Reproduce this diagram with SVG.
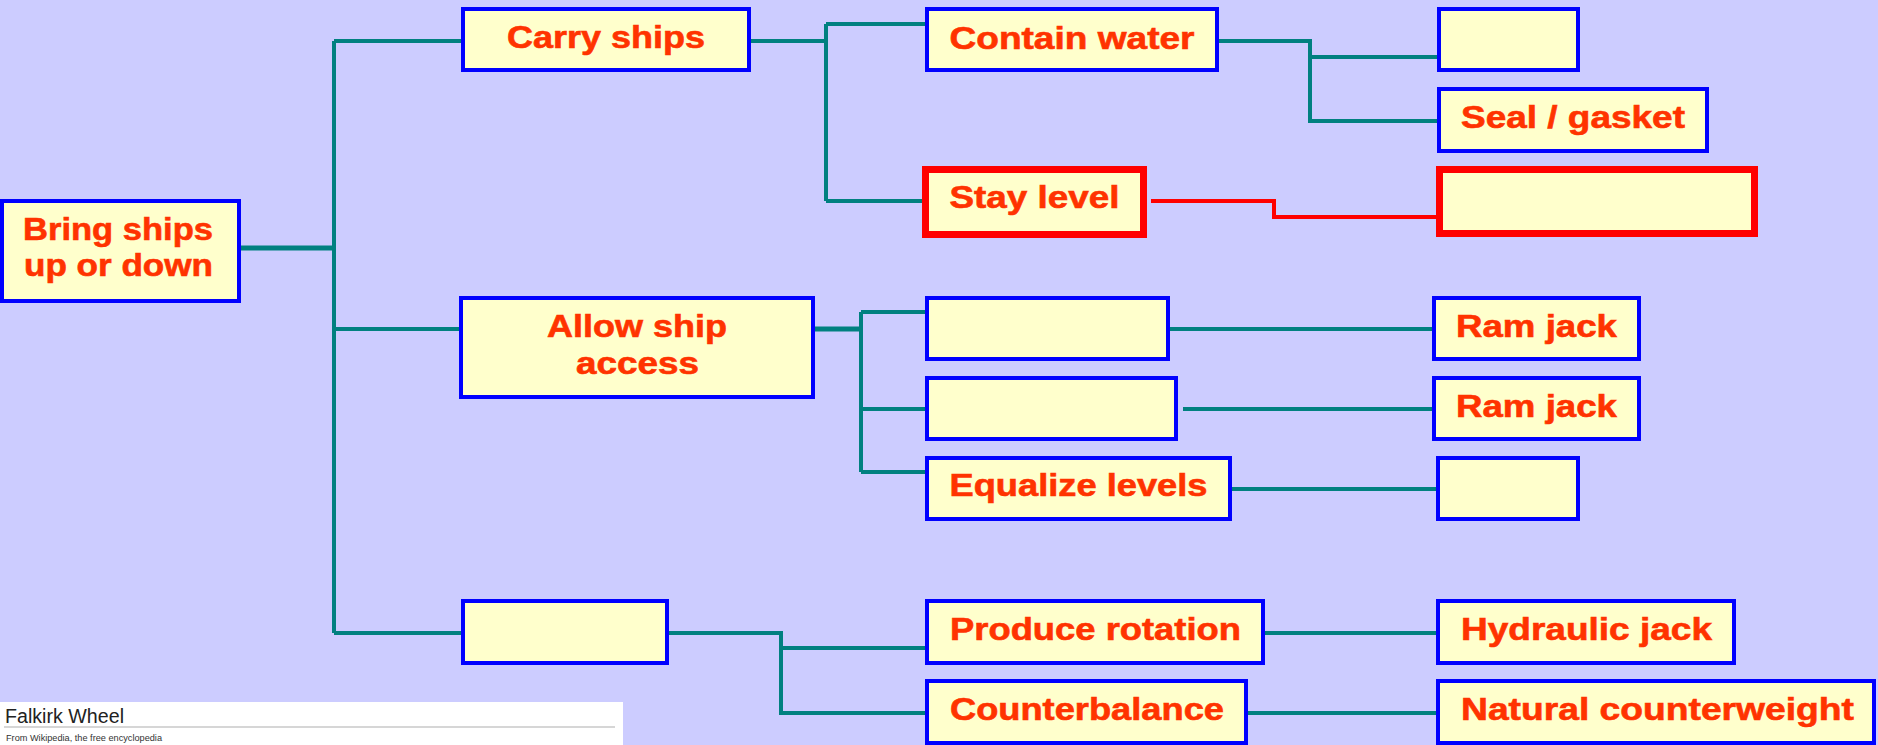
<svg xmlns="http://www.w3.org/2000/svg" width="1878" height="745" viewBox="0 0 1878 745">
  <style>
    .box { fill: #FFFFCC; stroke: #0000FF; stroke-width: 4; }
    .hot { fill: #FFFFCC; stroke: #FF0000; stroke-width: 7; }
    .lbl { font-family: "Liberation Sans", Arial, sans-serif; font-weight: bold; font-size: 31px; fill: #FF3300; stroke: #FF3300; stroke-width: 0.6; text-anchor: middle; }
    .wire { fill: none; stroke: #008080; stroke-width: 4; stroke-linejoin: miter; }
    .wire.thick { stroke-width: 5; }
    .wire.red { stroke: #FF0000; }
  </style>

  <!-- background -->
  <rect x="0" y="0" width="1878" height="745" fill="#CCCCFF"/>

  <!-- connectors -->
  <g id="connectors">
    <path class="wire thick" d="M241 248 H334"/>
    <path class="wire" d="M334 41 V633"/>
    <path class="wire" d="M334 41 H461"/>
    <path class="wire" d="M334 329 H459"/>
    <path class="wire" d="M334 633 H461"/>

    <path class="wire" d="M751 41 H826"/>
    <path class="wire" d="M826 24 V201"/>
    <path class="wire" d="M826 24 H925"/>
    <path class="wire" d="M826 201 H922"/>

    <path class="wire" d="M1219 41 H1310 V121 H1437"/>
    <path class="wire" d="M1310 57 H1437"/>

    <path class="wire red" d="M1151 201 H1274 V217 H1436"/>

    <path class="wire thick" d="M815 329 H861"/>
    <path class="wire" d="M861 312 V472"/>
    <path class="wire" d="M861 312 H925"/>
    <path class="wire" d="M861 409 H925"/>
    <path class="wire" d="M861 472 H925"/>

    <path class="wire" d="M1170 329 H1432"/>
    <path class="wire" d="M1183 409 H1432"/>
    <path class="wire" d="M1232 489 H1436"/>

    <path class="wire" d="M669 633 H781 V713 H925"/>
    <path class="wire" d="M781 648 H925"/>
    <path class="wire" d="M1265 633 H1436"/>
    <path class="wire" d="M1248 713 H1436"/>
  </g>

  <!-- nodes -->
  <g id="bring-ships">
    <rect class="box" x="2" y="201" width="237" height="100"/>
    <text class="lbl" x="118" y="239.5" textLength="190" lengthAdjust="spacingAndGlyphs">Bring ships</text>
    <text class="lbl" x="118.5" y="276" textLength="189" lengthAdjust="spacingAndGlyphs">up or down</text>
  </g>
  <g id="carry-ships">
    <rect class="box" x="463" y="9" width="286" height="61"/>
    <text class="lbl" x="606" y="48" textLength="198" lengthAdjust="spacingAndGlyphs">Carry ships</text>
  </g>
  <g id="contain-water">
    <rect class="box" x="927" y="9" width="290" height="61"/>
    <text class="lbl" x="1072" y="48.5" textLength="245" lengthAdjust="spacingAndGlyphs">Contain water</text>
  </g>
  <g id="contain-water-means">
    <rect class="box" x="1439" y="9" width="139" height="61"/>
  </g>
  <g id="seal-gasket">
    <rect class="box" x="1439" y="89" width="268" height="62"/>
    <text class="lbl" x="1573" y="128" textLength="224" lengthAdjust="spacingAndGlyphs">Seal / gasket</text>
  </g>
  <g id="stay-level">
    <rect class="hot" x="925.5" y="169.5" width="218" height="65"/>
    <text class="lbl" x="1034.5" y="208" textLength="170" lengthAdjust="spacingAndGlyphs">Stay level</text>
  </g>
  <g id="stay-level-means">
    <rect class="hot" x="1439.5" y="169.5" width="315" height="64"/>
  </g>
  <g id="allow-ship-access">
    <rect class="box" x="461" y="298" width="352" height="99"/>
    <text class="lbl" x="637" y="336.5" textLength="180" lengthAdjust="spacingAndGlyphs">Allow ship</text>
    <text class="lbl" x="637.5" y="374" textLength="123" lengthAdjust="spacingAndGlyphs">access</text>
  </g>
  <g id="access-fn-1">
    <rect class="box" x="927" y="298" width="241" height="61"/>
  </g>
  <g id="ram-jack-1">
    <rect class="box" x="1434" y="298" width="205" height="61"/>
    <text class="lbl" x="1536.5" y="336.5" textLength="161" lengthAdjust="spacingAndGlyphs">Ram jack</text>
  </g>
  <g id="access-fn-2">
    <rect class="box" x="927" y="378" width="249" height="61"/>
  </g>
  <g id="ram-jack-2">
    <rect class="box" x="1434" y="378" width="205" height="61"/>
    <text class="lbl" x="1536.5" y="416.5" textLength="161" lengthAdjust="spacingAndGlyphs">Ram jack</text>
  </g>
  <g id="equalize-levels">
    <rect class="box" x="927" y="458" width="303" height="61"/>
    <text class="lbl" x="1078.5" y="496" textLength="258" lengthAdjust="spacingAndGlyphs">Equalize levels</text>
  </g>
  <g id="equalize-means">
    <rect class="box" x="1438" y="458" width="140" height="61"/>
  </g>
  <g id="third-fn">
    <rect class="box" x="463" y="601" width="204" height="62"/>
  </g>
  <g id="produce-rotation">
    <rect class="box" x="927" y="601" width="336" height="62"/>
    <text class="lbl" x="1095.5" y="640" textLength="291" lengthAdjust="spacingAndGlyphs">Produce rotation</text>
  </g>
  <g id="hydraulic-jack">
    <rect class="box" x="1438" y="601" width="296" height="62"/>
    <text class="lbl" x="1586.5" y="640" textLength="251" lengthAdjust="spacingAndGlyphs">Hydraulic jack</text>
  </g>
  <g id="counterbalance">
    <rect class="box" x="927" y="681" width="319" height="62"/>
    <text class="lbl" x="1087" y="720" textLength="274" lengthAdjust="spacingAndGlyphs">Counterbalance</text>
  </g>
  <g id="natural-counterweight">
    <rect class="box" x="1438" y="681" width="436" height="62"/>
    <text class="lbl" x="1657.5" y="720" textLength="393" lengthAdjust="spacingAndGlyphs">Natural counterweight</text>
  </g>

  <!-- page header strip, lower left -->
  <g id="wiki-strip">
    <rect x="0" y="702" width="623" height="43" fill="#FFFFFF"/>
    <text x="5" y="722.5" font-family="'Liberation Sans', Arial, sans-serif" font-size="20" fill="#222222" textLength="119" lengthAdjust="spacingAndGlyphs">Falkirk Wheel</text>
    <line x1="4" y1="727" x2="615" y2="727" stroke="#C8C8C8" stroke-width="1.5"/>
    <text x="6" y="741" font-family="'Liberation Sans', Arial, sans-serif" font-size="9.5" fill="#333333" textLength="156" lengthAdjust="spacingAndGlyphs">From Wikipedia, the free encyclopedia</text>
  </g>
</svg>
